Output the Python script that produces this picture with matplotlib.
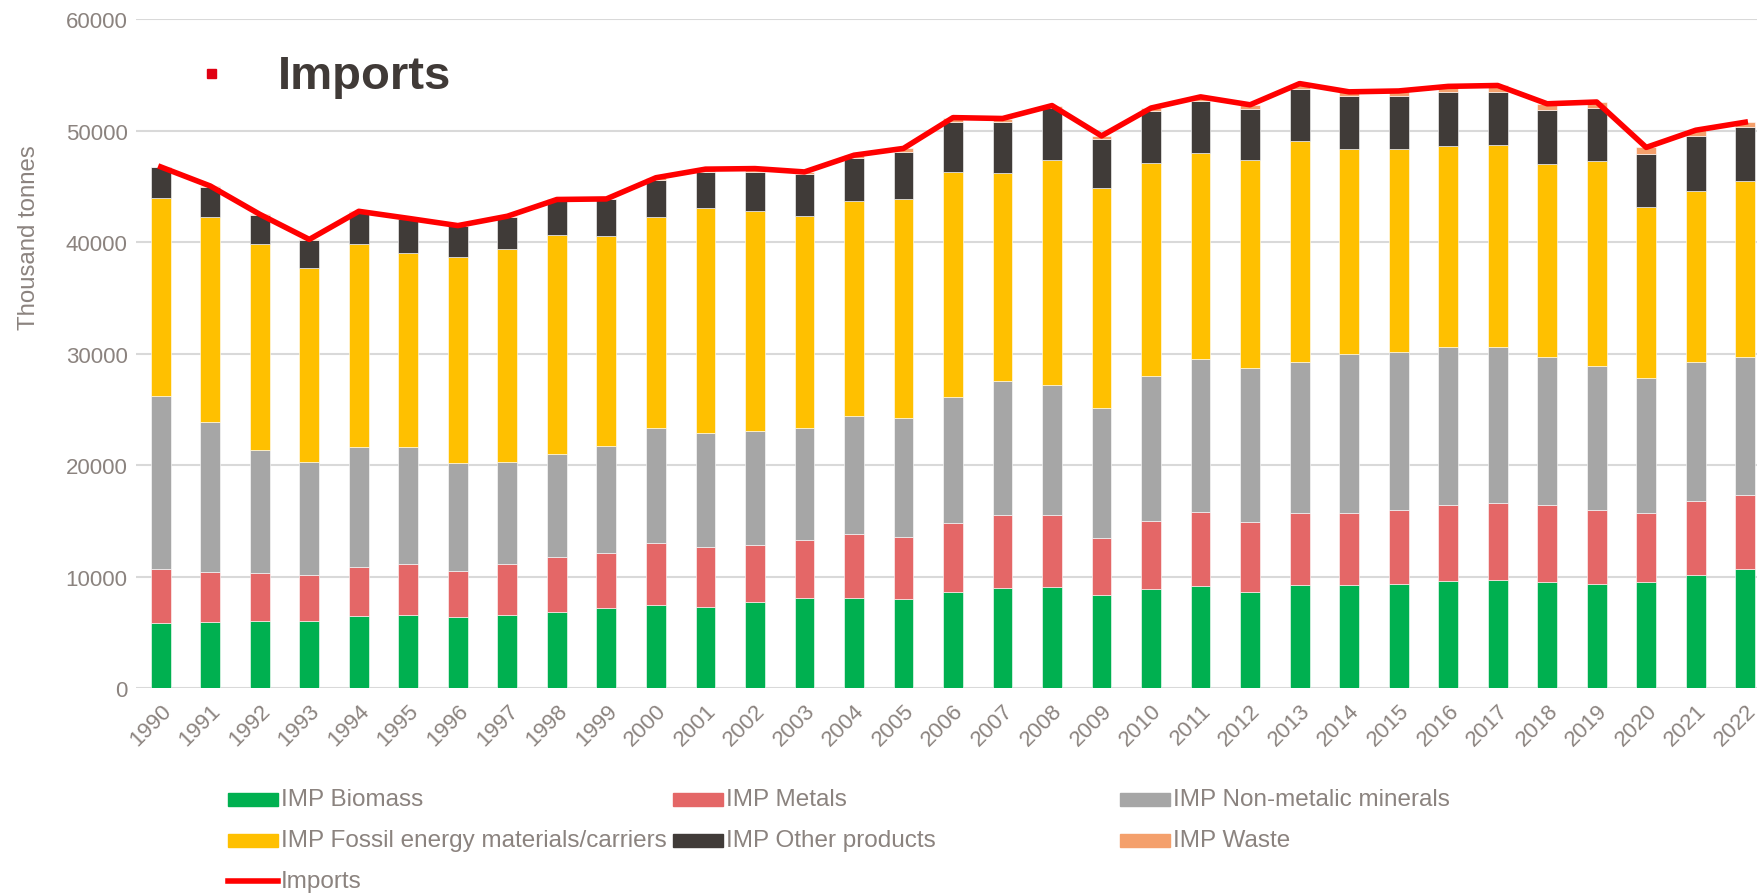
import numpy as np
import matplotlib.pyplot as plt
from matplotlib.patches import Rectangle
from matplotlib.lines import Line2D

plt.rcParams['font.family'] = ['Liberation Sans', 'DejaVu Sans']

years = [str(y) for y in range(1990, 2023)]

# thousand tonnes per material category
biomass = [5820, 5940, 6030, 6060, 6480, 6570, 6420, 6600, 6870, 7210,
           7500, 7290, 7700, 8110, 8110, 7990, 8650, 8980, 9060, 8400,
           8900, 9190, 8610, 9270, 9230, 9350, 9600, 9680, 9520, 9390,
           9560, 10170, 10710]
metals = [4840, 4480, 4330, 4090, 4390, 4600, 4090, 4530, 4890, 4940,
          5520, 5400, 5150, 5190, 5690, 5560, 6180, 6550, 6470, 5070,
          6140, 6590, 6340, 6430, 6470, 6590, 6840, 6920, 6920, 6590,
          6180, 6630, 6630]
non_metallic = [15550, 13460, 10990, 10120, 10720, 10480, 9700, 9130, 9250, 9600,
                10340, 10210, 10260, 10050, 10590, 10670, 11250, 12030, 11660, 11660,
                12930, 13760, 13760, 13550, 14250, 14210, 14170, 14000, 13260, 12930,
                12070, 12440, 12320]
fossil = [17710, 18400, 18450, 17400, 18210, 17400, 18410, 19160, 19640, 18820,
          18910, 20140, 19690, 18950, 19320, 19650, 20220, 18660, 20140, 19730,
          19150, 18410, 18620, 19810, 18370, 18170, 18040, 18080, 17300, 18330,
          15360, 15320, 15820]
other = [2790, 2660, 2600, 2510, 2870, 2990, 2810, 2840, 3080, 3250,
         3340, 3250, 3500, 3790, 3870, 4240, 4450, 4570, 4660, 4410,
         4610, 4660, 4570, 4660, 4780, 4780, 4820, 4740, 4820, 4780,
         4700, 4980, 4860]
waste = [30, 90, 90, 60, 90, 90, 50, 60, 90, 50,
         160, 250, 290, 200, 210, 290, 410, 290, 250, 250,
         290, 410, 410, 490, 370, 450, 490, 620, 580, 540,
         620, 490, 410]

series = [
    ('IMP Biomass', biomass, '#00B050'),
    ('IMP Metals', metals, '#E46767'),
    ('IMP Non-metalic minerals', non_metallic, '#A6A6A6'),
    ('IMP Fossil energy materials/carriers', fossil, '#FFC000'),
    ('IMP Other products', other, '#403B38'),
    ('IMP Waste', waste, '#F4A06C'),
]
imports_total = np.sum([s[1] for s in series], axis=0)

text_col = '#8B837F'
W, H = 1758, 895
fig = plt.figure(figsize=(W / 100, H / 100), dpi=100)
ax = fig.add_axes([136 / W, 1 - 689.3 / H, (1770 - 136) / W, (689.3 - 20) / H])

x = np.arange(len(years))
bottom = np.zeros(len(years))
for name, vals, col in series:
    ax.bar(x, vals, width=0.4, bottom=bottom, color=col, edgecolor='white',
           linewidth=0.4, zorder=2)
    bottom += np.array(vals)

ax.plot(x, imports_total, color='#FF0000', linewidth=4, zorder=3,
        solid_joinstyle='round')

ax.set_xlim(-0.5, len(years) - 0.5)
ax.set_ylim(0, 60000)
ax.set_yticks(range(0, 60001, 10000))
ax.grid(axis='y', color='#D9D9D9', linewidth=1.5, zorder=0)
ax.set_axisbelow(True)
for s in ax.spines.values():
    s.set_visible(False)
ax.tick_params(length=0, labelsize=16, labelcolor=text_col)
ax.tick_params(axis='y', pad=6)
ax.set_xticks(x)
ax.set_xticklabels(years, rotation=45, ha='right', rotation_mode='anchor')
ax.tick_params(axis='x', pad=8)

fig.text(29 / W, 1 - 238 / H, 'Thousand tonnes', rotation=90, fontsize=17.3,
         color=text_col, ha='center', va='center')

# chart title with its marker
fig.patches.append(Rectangle((207 / W, 1 - 79 / H), 9 / W, 9 / H,
                             transform=fig.transFigure, color='#E00012'))
fig.text(278 / W, 1 - 77 / H, 'Imports', fontsize=34, fontweight='bold',
         color='#403A37', ha='left', va='center')

# legend laid out in rows of three
col_x = [228, 673, 1120]
row_y = [800, 841, 882]
entries = [(n, c, 'patch') for n, _, c in series] + [('Imports', '#FF0000', 'line')]
for i, (name, col, kind) in enumerate(entries):
    px = col_x[i % 3]
    py = row_y[i // 3]
    if kind == 'patch':
        fig.patches.append(Rectangle((px / W, 1 - (py + 6.5) / H), 50 / W, 13 / H,
                                     transform=fig.transFigure, color=col))
    else:
        fig.lines.append(Line2D([px / W, (px + 50) / W], [1 - py / H, 1 - py / H],
                                transform=fig.transFigure, color=col, linewidth=4))
    fig.text((px + 53) / W, 1 - py / H, name, fontsize=17.5, color=text_col,
             ha='left', va='center')

fig.savefig('out.png', dpi=100)
